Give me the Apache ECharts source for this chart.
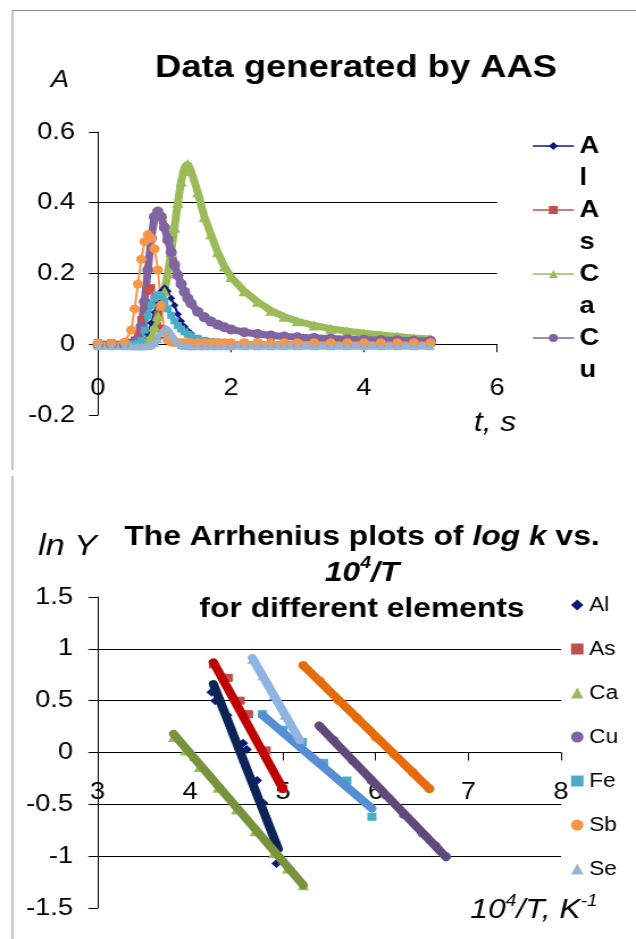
<!DOCTYPE html>
<html>
<head>
<meta charset="utf-8">
<script src="https://cdn.jsdelivr.net/npm/echarts@6/dist/echarts.min.js"></script>
<style>
  body { margin: 0; background: #fff; }
  /* the source picture is stretched sideways, so the charts are too */
  .chart { position: absolute; left: 0; width: 560px; transform: scaleX(1.135714); transform-origin: 0 0; }
</style>
</head>
<body>
<div id="aas" class="chart" style="top:0;height:470px"></div>
<div id="arr" class="chart" style="top:470px;height:469px"></div>
<script>
const S = 636 / 560;
const X = v => v / S;            // reference px -> layout px
const FONT = '"Liberation Sans", Arial, sans-serif';

// ---------- top chart: AAS signals (A vs t, s)
const timeS = [0, 0.2, 0.4, 0.5, 0.55, 0.6, 0.65, 0.7, 0.75, 0.8, 0.85, 0.9, 0.95, 1.0, 1.05, 1.1, 1.15, 1.2, 1.25, 1.3, 1.35, 1.4,
  1.5, 1.6, 1.7, 1.8, 1.9, 2.0, 2.2, 2.4, 2.6, 2.8, 3.0, 3.25, 3.5, 3.75, 4.0, 4.25, 4.5, 4.75, 5.0];
const absAl = [0, 0, 0, 0, 0, 0, 0.003, 0.01, 0.03, 0.06, 0.09, 0.12, 0.15, 0.16, 0.15, 0.13, 0.11, 0.085, 0.065, 0.05, 0.038, 0.03,
  0.018, 0.011, 0.007, 0.005, 0.004, 0.003, 0.002, 0.002, 0.002, 0.002, 0.002, 0.002, 0.002, 0.002, 0.002, 0.002, 0.002, 0.002, 0.002];
const absAs = [0.005, 0.005, 0.005, 0.006, 0.012, 0.03, 0.07, 0.115, 0.15, 0.16, 0.13, 0.085, 0.045, 0.025, 0.012, 0.007, 0.005, 0.004, 0.004, 0.004, 0.004, 0.004,
  0.004, 0.004, 0.004, 0.004, 0.004, 0.004, 0.004, 0.004, 0.004, 0.004, 0.004, 0.004, 0.004, 0.004, 0.004, 0.004, 0.004, 0.004, 0.004];
const absCa = [0, 0, 0, 0, 0, 0, 0.002, 0.005, 0.01, 0.025, 0.05, 0.08, 0.11, 0.15, 0.2, 0.26, 0.33, 0.4, 0.46, 0.5, 0.51, 0.49,
  0.43, 0.36, 0.31, 0.26, 0.22, 0.19, 0.15, 0.12, 0.095, 0.078, 0.065, 0.053, 0.044, 0.037, 0.031, 0.026, 0.022, 0.018, 0.015];
const absCu = [0, 0, 0, 0, 0.004, 0.015, 0.05, 0.12, 0.21, 0.3, 0.36, 0.375, 0.36, 0.33, 0.295, 0.26, 0.225, 0.195, 0.17, 0.148, 0.13, 0.115,
  0.092, 0.076, 0.064, 0.055, 0.048, 0.042, 0.034, 0.029, 0.025, 0.022, 0.02, 0.018, 0.016, 0.014, 0.013, 0.012, 0.011, 0.01, 0.01];
const absFe = [0, 0, 0, 0, 0, 0.002, 0.01, 0.04, 0.08, 0.11, 0.13, 0.14, 0.135, 0.12, 0.1, 0.082, 0.066, 0.053, 0.043, 0.035, 0.028, 0.023,
  0.016, 0.011, 0.008, 0.006, 0.005, 0.004, 0.003, 0.003, 0.003, 0.003, 0.003, 0.003, 0.003, 0.003, 0.003, 0.003, 0.003, 0.003, 0.003];
const absSb = [0.003, 0.003, 0.006, 0.04, 0.1, 0.17, 0.24, 0.29, 0.31, 0.3, 0.27, 0.21, 0.11, 0.035, 0.012, 0.006, 0.005, 0.004, 0.004, 0.004, 0.004, 0.004,
  0.004, 0.004, 0.004, 0.004, 0.004, 0.004, 0.004, 0.004, 0.004, 0.004, 0.004, 0.004, 0.004, 0.004, 0.004, 0.004, 0.004, 0.004, 0.004];
const absSe = [-0.006, -0.006, -0.006, -0.006, -0.006, -0.006, -0.006, -0.006, -0.005, -0.003, 0.003, 0.015, 0.032, 0.045, 0.04, 0.025, 0.012, 0.004, -0.002, -0.005, -0.006, -0.006,
  -0.006, -0.006, -0.006, -0.006, -0.006, -0.006, -0.006, -0.006, -0.006, -0.006, -0.006, -0.006, -0.006, -0.006, -0.006, -0.006, -0.006, -0.006, -0.006];
const topLegend = ['Al', 'As', 'Ca', 'Cu'];

// ---------- bottom chart: Arrhenius plots (ln Y vs 10^4/T)
const elements = ['Al', 'As', 'Ca', 'Cu', 'Fe', 'Sb', 'Se'];
const alX = [4.23, 4.27, 4.40, 4.57, 4.61, 4.72, 4.79, 4.93];
const alY = [0.58, 0.50, 0.36, 0.09, 0.03, -0.27, -0.49, -1.07];
const asX = [4.25, 4.41, 4.54, 4.63, 4.82, 5.0];
const asY = [0.85, 0.72, 0.50, 0.37, 0.02, -0.35];
const caX = [3.82, 3.95, 4.1, 4.3, 4.5, 4.7, 4.9, 5.05, 5.22];
const caY = [0.15, 0.02, -0.14, -0.34, -0.55, -0.76, -0.97, -1.12, -1.28];
const cuX = [5.4, 5.55, 5.75, 5.95, 6.1, 6.3, 6.5, 6.65, 6.76];
const cuY = [0.25, 0.12, -0.08, -0.27, -0.41, -0.6, -0.78, -0.9, -1.0];
const feX = [4.78, 5.0, 5.21, 5.44, 5.69, 5.96];
const feY = [0.37, 0.22, 0.10, -0.10, -0.27, -0.62];
const sbX = [5.22, 5.4, 5.6, 5.8, 6.0, 6.2, 6.4, 6.58];
const sbY = [0.84, 0.69, 0.5, 0.33, 0.15, -0.02, -0.19, -0.35];
const seX = [4.67, 4.78, 4.9, 5.02, 5.18];
const seY = [0.90, 0.74, 0.55, 0.36, 0.12];
// trend lines (end points)
const alFitX = [4.25, 4.95], alFitY = [0.66, -0.93];
const asFitX = [4.25, 5.0], asFitY = [0.87, -0.35];
const caFitX = [3.82, 5.22], caFitY = [0.18, -1.28];
const cuFitX = [5.39, 6.76], cuFitY = [0.26, -1.01];
const feFitX = [4.78, 5.96], feFitY = [0.36, -0.54];
const sbFitX = [5.22, 6.58], sbFitY = [0.84, -0.35];
const seFitX = [4.67, 5.18], seFitY = [0.91, 0.12];

const pts = (xs, ys) => xs.map((x, i) => [x, ys[i]]);
const axisText = { fontSize: 24, color: '#000', fontFamily: FONT };
const blackLine = { lineStyle: { color: '#000', width: 1 } };

// ----- top
function signal(name, values, color, symbol, size, width) {
  return {
    name, type: 'line', data: pts(timeS, values),
    symbol, symbolSize: size, showSymbol: true,
    itemStyle: { color }, lineStyle: { color, width }
  };
}

const topH = 283;   // grid height; the time axis sits on A = 0
const chartAas = echarts.init(document.getElementById('aas'));
chartAas.setOption({
  animation: false,
  grid: { left: X(98), top: 132, width: X(497) - X(98), height: topH },
  xAxis: {
    type: 'value', min: 0, max: 6, interval: 2,
    offset: -topH * 0.2 / 0.8,
    axisLine: { onZero: false, ...blackLine },
    axisTick: { length: 8, ...blackLine },
    axisLabel: { ...axisText, margin: 32 },
    splitLine: { show: false }
  },
  yAxis: {
    type: 'value', min: -0.2, max: 0.6, interval: 0.2,
    axisLine: { show: true, ...blackLine },
    axisTick: { show: true, length: 8, ...blackLine },
    axisLabel: { ...axisText, margin: X(23) },
    splitLine: { show: true, showMinLine: false, showMaxLine: false, ...blackLine }
  },
  legend: {
    data: topLegend, orient: 'vertical', left: X(532), top: 98, padding: 0,
    itemWidth: X(41), itemHeight: 10, itemGap: -32,
    formatter: n => ' \n' + n.split('').join('\n'),
    lineStyle: { width: 1.5 },
    textStyle: { fontSize: 24, fontWeight: 'bold', color: '#000', fontFamily: FONT, lineHeight: 32 }
  },
  series: [
    signal('Al', absAl, '#0d1580', 'diamond', 7, 2),
    signal('As', absAs, '#c0504d', 'rect', 7, 2),
    signal('Ca', absCa, '#9bbb59', 'triangle', 10, 7),
    signal('Cu', absCu, '#8064a2', 'circle', 10, 7),
    signal('Fe', absFe, '#4bacc6', 'rect', 7, 4),
    signal('Sb', absSb, '#f79646', 'circle', 9, 2),
    signal('Se', absSe, '#95b3d7', 'triangle', 8, 7)
  ],
  graphic: [
    { type: 'line', shape: { x1: X(12.5), y1: 10.5, x2: X(12.5), y2: 470 }, style: { stroke: '#8c8c8c', lineWidth: 1 } },
    { type: 'line', shape: { x1: X(12), y1: 10.5, x2: 560, y2: 10.5 }, style: { stroke: '#8c8c8c', lineWidth: 1 } },
    { type: 'text', x: X(356), y: 68, style: { text: 'Data generated by AAS', fontSize: 32, fontWeight: 'bold', fontFamily: FONT, fill: '#000', align: 'center', verticalAlign: 'middle' } },
    { type: 'text', x: X(60), y: 80, style: { text: 'A', fontSize: 24, fontStyle: 'italic', fontFamily: FONT, fill: '#000', align: 'center', verticalAlign: 'middle' } },
    { type: 'text', x: X(495), y: 423, style: { text: 't, s', fontSize: 28, fontStyle: 'italic', fontFamily: FONT, fill: '#000', align: 'center', verticalAlign: 'middle' } }
  ]
});

// ----- bottom
const specs = [
  { xs: alX, ys: alY, fx: alFitX, fy: alFitY, symbol: 'diamond', size: 9, mark: '#0c1a7a', line: '#0b2357' },
  { xs: asX, ys: asY, fx: asFitX, fy: asFitY, symbol: 'rect', size: 8, mark: '#c0504d', line: '#c00000' },
  { xs: caX, ys: caY, fx: caFitX, fy: caFitY, symbol: 'triangle', size: 10, mark: '#9bbb59', line: '#77933c' },
  { xs: cuX, ys: cuY, fx: cuFitX, fy: cuFitY, symbol: 'circle', size: 8, mark: '#8064a2', line: '#604a7b' },
  { xs: feX, ys: feY, fx: feFitX, fy: feFitY, symbol: 'rect', size: 8, mark: '#4bacc6', line: '#558ed5' },
  { xs: sbX, ys: sbY, fx: sbFitX, fy: sbFitY, symbol: 'circle', size: 9, mark: '#f79646', line: '#e46c0a' },
  { xs: seX, ys: seY, fx: seFitX, fy: seFitY, symbol: 'triangle', size: 9, mark: '#95b3d7', line: '#8eb4e3' }
];

const markers = specs.map((s, i) => ({
  name: elements[i], type: 'scatter', data: pts(s.xs, s.ys),
  symbol: s.symbol, symbolSize: s.size, itemStyle: { color: s.mark, opacity: 1 }
}));
const fits = specs.map((s, i) => ({
  name: elements[i] + ' trend', type: 'line', data: pts(s.fx, s.fy),
  showSymbol: false, silent: true,
  lineStyle: { color: s.line, width: 8, cap: 'round' }
}));

const botH = 311;   // grid height; the 10^4/T axis sits on ln Y = 0
const chartArr = echarts.init(document.getElementById('arr'));
chartArr.setOption({
  animation: false,
  grid: { left: X(97.5), top: 127, width: X(561) - X(97.5), height: botH },
  xAxis: {
    type: 'value', min: 3, max: 8, interval: 1,
    offset: -botH * 1.5 / 3,
    axisLine: { onZero: false, ...blackLine },
    axisTick: { length: 8, ...blackLine },
    axisLabel: { ...axisText, margin: 28 },
    splitLine: { show: false }
  },
  yAxis: {
    type: 'value', min: -1.5, max: 1.5, interval: 0.5,
    axisLine: { show: true, ...blackLine },
    axisTick: { show: true, length: 8, ...blackLine },
    axisLabel: { ...axisText, margin: X(24.5) },
    splitLine: { show: true, showMinLine: false, showMaxLine: false, ...blackLine }
  },
  legend: {
    data: elements, orient: 'vertical', left: X(571), top: 125, padding: 0,
    itemWidth: 11, itemHeight: 11, itemGap: 24,
    textStyle: { fontSize: 20, color: '#000', fontFamily: FONT, lineHeight: 20 }
  },
  series: markers.concat(fits),
  graphic: [
    { type: 'line', shape: { x1: X(12.5), y1: 6, x2: X(12.5), y2: 469 }, style: { stroke: '#8c8c8c', lineWidth: 1 } },
    {
      type: 'text', x: X(362), y: 49,
      style: {
        text: 'The Arrhenius plots of {bi|log k} vs.\n{bi|10}{sup|4}{bi|/T}\nfor different elements',
        fontSize: 28, fontWeight: 'bold', fontFamily: FONT, fill: '#000', lineHeight: 36,
        align: 'center', verticalAlign: 'top',
        rich: {
          bi: { fontSize: 28, fontWeight: 'bold', fontStyle: 'italic', fontFamily: FONT, lineHeight: 36 },
          sup: { fontSize: 17, fontWeight: 'bold', fontStyle: 'italic', fontFamily: FONT, lineHeight: 20, verticalAlign: 'top' }
        }
      }
    },
    { type: 'text', x: X(67.5), y: 77, style: { text: 'ln Y', fontSize: 30, fontStyle: 'italic', fontFamily: FONT, fill: '#000', align: 'center', verticalAlign: 'middle' } },
    {
      type: 'text', x: X(534), y: 440,
      style: {
        text: '{i|10}{s|4}{i|/T, K}{s|-1}',
        fill: '#000', align: 'center', verticalAlign: 'middle',
        rich: {
          i: { fontSize: 28, fontStyle: 'italic', fontFamily: FONT, lineHeight: 34 },
          s: { fontSize: 17, fontStyle: 'italic', fontFamily: FONT, lineHeight: 20, verticalAlign: 'top' }
        }
      }
    }
  ]
});
</script>
</body>
</html>
